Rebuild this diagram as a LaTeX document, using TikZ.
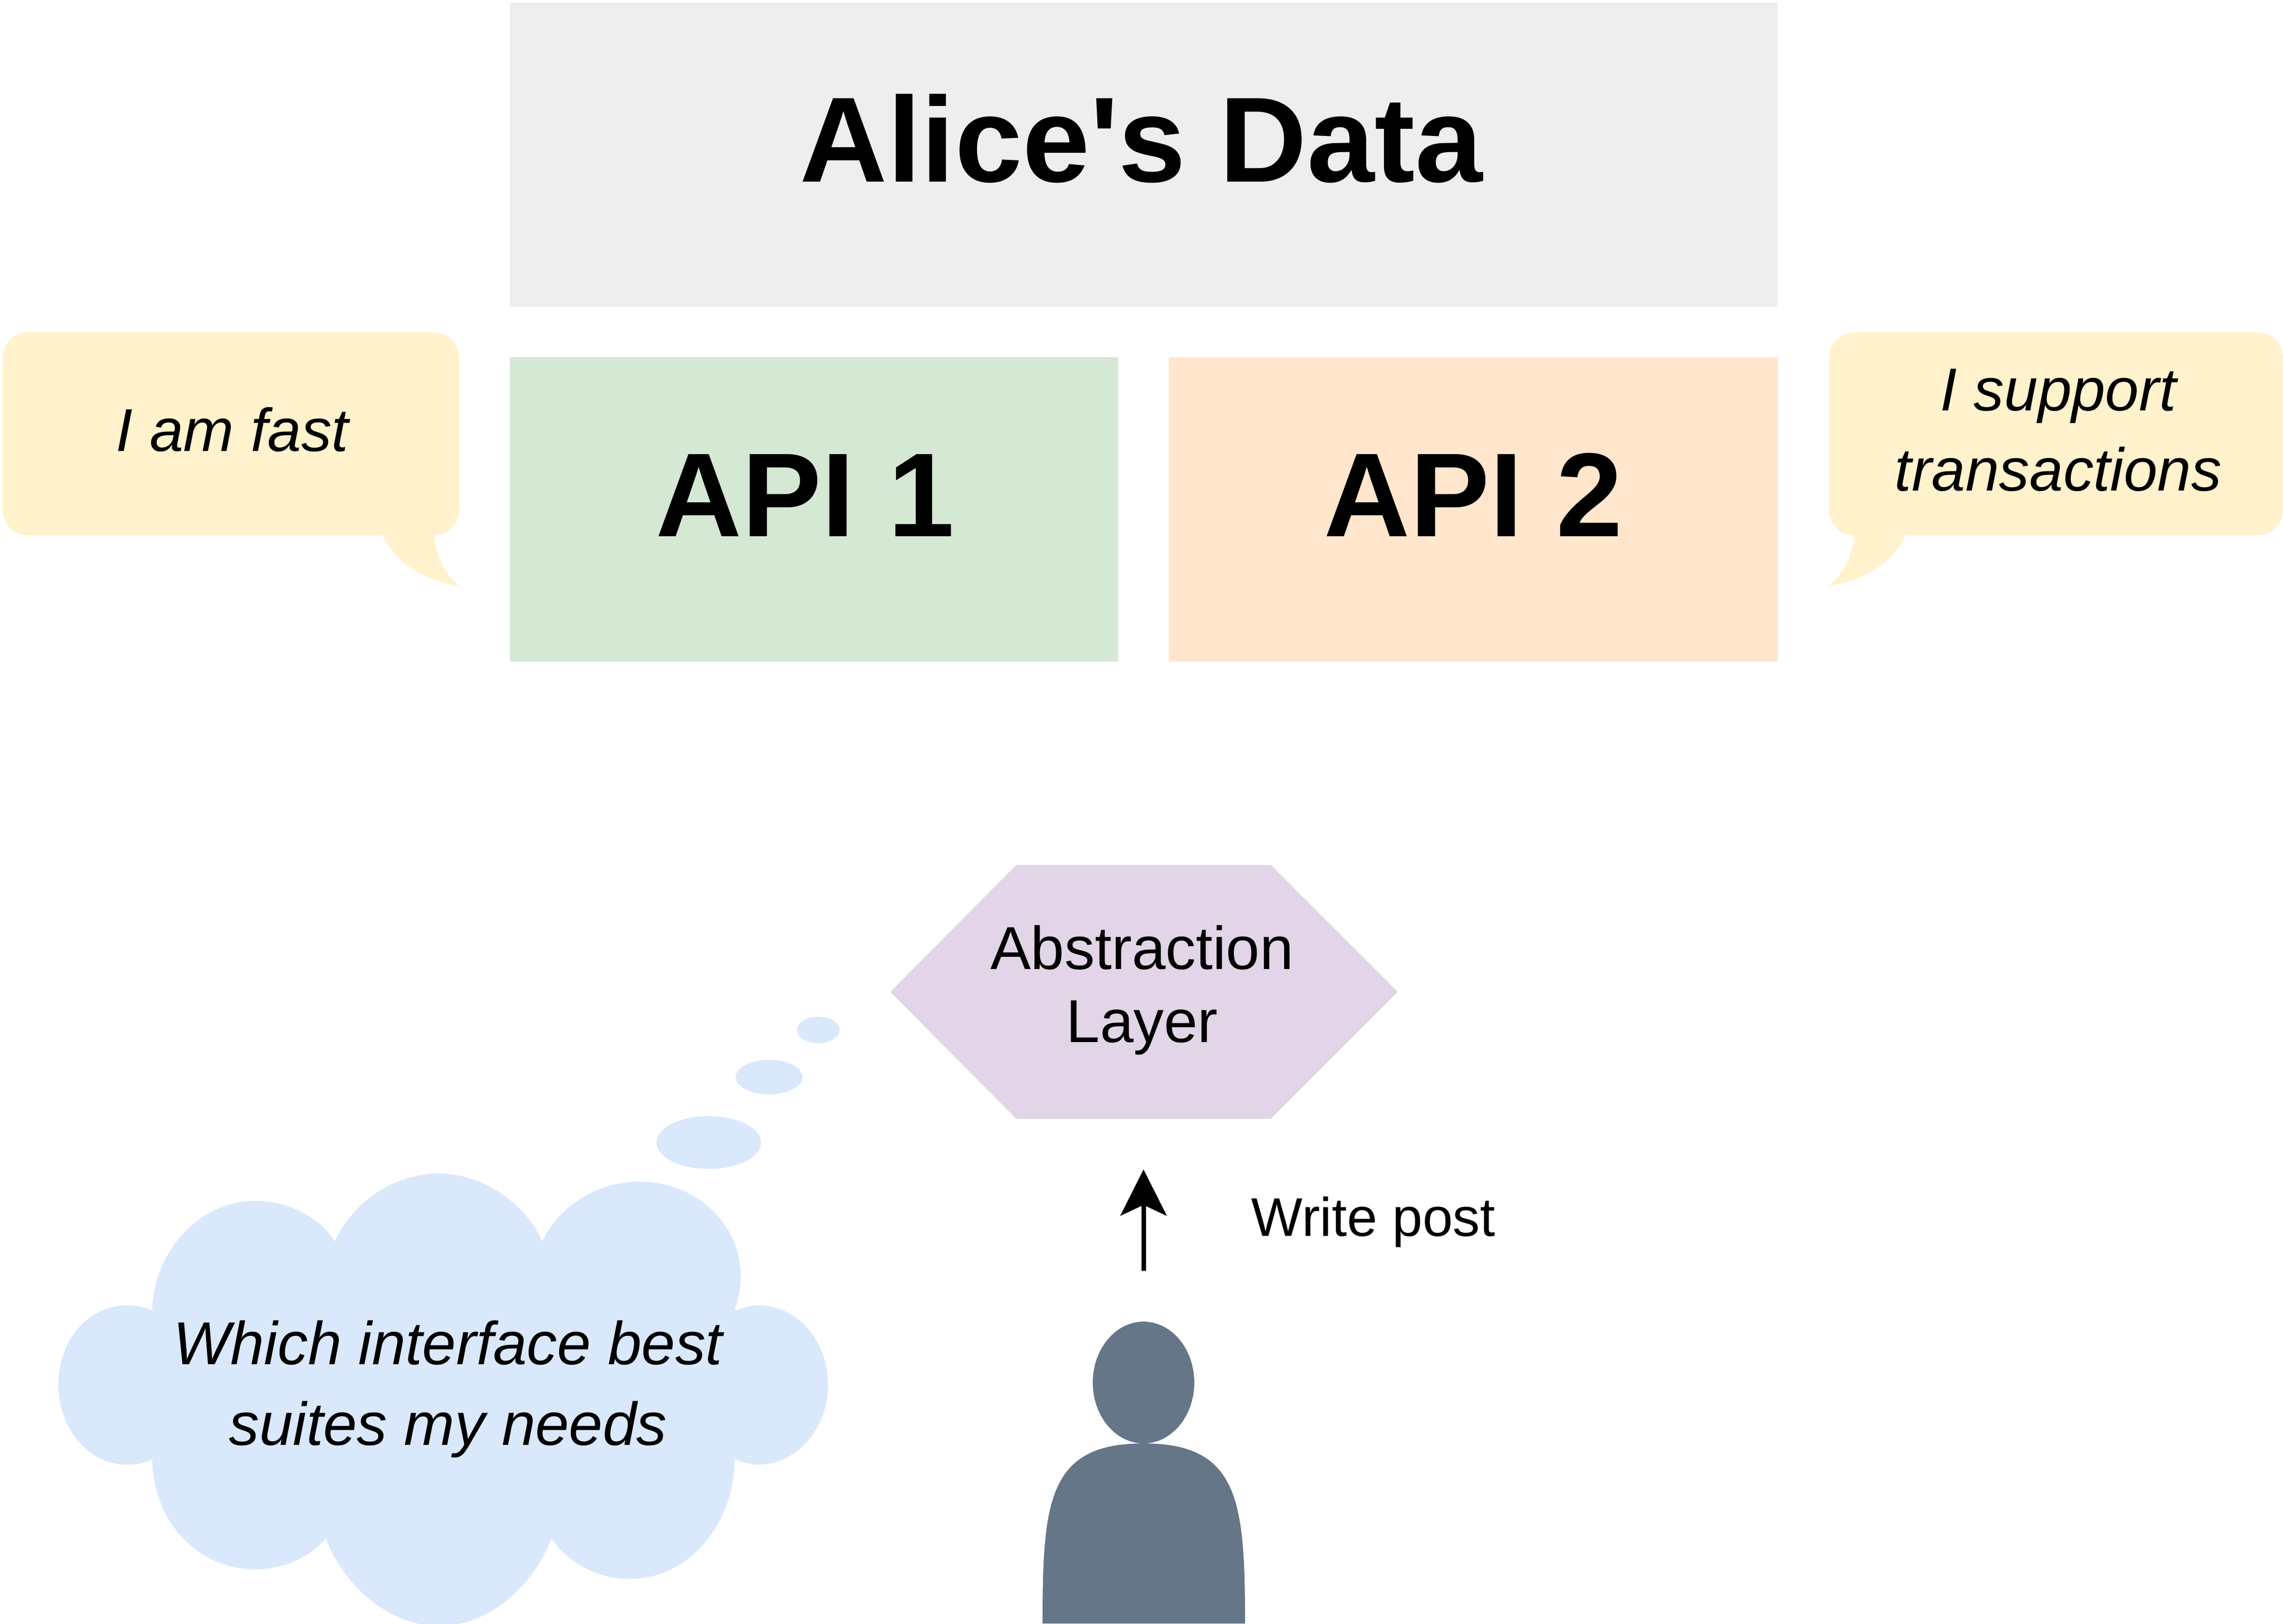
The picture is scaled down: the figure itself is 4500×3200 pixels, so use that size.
\documentclass[tikz,border=0pt]{standalone}
\usepackage{fontspec}
\setmainfont{Liberation Sans}
\usetikzlibrary{arrows.meta,shapes.geometric}
\definecolor{datagrey}{HTML}{EEEEEE}
\definecolor{apigreen}{HTML}{D5E8D4}
\definecolor{apiorange}{HTML}{FFE6CC}
\definecolor{speechyellow}{HTML}{FFF2CC}
\definecolor{layerpurple}{HTML}{E1D5E7}
\definecolor{cloudblue}{HTML}{DAE8FC}
\definecolor{personslate}{HTML}{647687}
\tikzset{
  box/.style={inner sep=0pt,minimum height=60mm,text height=35.3mm,text depth=24.7mm,
    font=\bfseries\fontsize{67pt}{70pt}\selectfont},
  said/.style={inner sep=0pt,align=center,font=\itshape\fontsize{34pt}{45pt}\selectfont},
  bubble/.style={ellipse,fill=cloudblue,inner sep=0pt},
  person/.style={fill=personslate}
}
\begin{document}
\begin{tikzpicture}[x=0.1mm,y=-0.1mm]
   \clip (0,0) rectangle (4500,3200);

   \node[box,fill=datagrey,minimum width=249.9mm,font=\bfseries\fontsize{68pt}{70pt}\selectfont] (data) at (2254.5,305) {Alice\textquotesingle s Data\hspace*{1mm}};
   \node[box,fill=apigreen,minimum width=119.9mm] (api1) at (1604.5,1004) {API 1\hspace*{3.5mm}};
   \node[box,fill=apiorange,minimum width=120mm] (api2) at (2904,1004) {API 2};

   \fill[speechyellow] (55,655) -- (855,655) arc[start angle=-90,end angle=0,radius=50]
      -- (905,1005) arc[start angle=0,end angle=90,radius=50]
      .. controls (860,1100) and (880,1135) .. (905,1155)
      .. controls (835,1145) and (775,1105) .. (755,1055)
      -- (55,1055) arc[start angle=90,end angle=180,radius=50]
      -- (5,705) arc[start angle=180,end angle=270,radius=50] -- cycle;
   \node[said] (fast) at (458,847) {I am fast};

   \fill[speechyellow] (3655,655) -- (4450,655) arc[start angle=-90,end angle=0,radius=50]
      -- (4500,1005) arc[start angle=0,end angle=90,radius=50]
      -- (3755,1055)
      .. controls (3735,1105) and (3675,1145) .. (3605,1155)
      .. controls (3630,1135) and (3650,1100) .. (3655,1055)
      arc[start angle=90,end angle=180,radius=50]
      -- (3605,705) arc[start angle=180,end angle=270,radius=50] -- cycle;
   \node[said] (transactions) at (4057,848) {I support\\transactions};

   \fill[layerpurple] (2003,1705) -- (2505,1705) -- (2755,1955) -- (2505,2205) -- (2003,2205) -- (1755,1955) -- cycle;
   \node[said,font=\fontsize{34pt}{41pt}\selectfont] (layer) at (2251,1952) {Abstraction\\Layer};

   \node[bubble,minimum width=8.4mm,minimum height=5.2mm] (thought1) at (1613,2030) {};
   \node[bubble,minimum width=13.2mm,minimum height=6.8mm] (thought2) at (1516,2123) {};
   \node[bubble,minimum width=20.6mm,minimum height=10.4mm] (thought3) at (1397,2252) {};

   \fill[cloudblue] (300,2583) .. controls (302,2470) and (390,2367) .. (503,2367)
      .. controls (570,2367) and (630,2400) .. (660,2447)
      .. controls (695,2370) and (775,2313) .. (866,2313)
      .. controls (950,2313) and (1035,2370) .. (1069,2447)
      .. controls (1100,2380) and (1175,2329) .. (1260,2329)
      .. controls (1370,2329) and (1460,2410) .. (1460,2516)
      .. controls (1460,2540) and (1455,2560) .. (1448,2583)
      .. controls (1465,2577) and (1480,2573) .. (1495,2573)
      .. controls (1570,2573) and (1632,2640) .. (1632,2730)
      .. controls (1632,2815) and (1570,2887) .. (1495,2887)
      .. controls (1480,2887) and (1465,2882) .. (1448,2876)
      .. controls (1448,3000) and (1360,3112) .. (1242,3112)
      .. controls (1175,3112) and (1120,3080) .. (1087,3032)
      .. controls (1050,3130) and (960,3205) .. (866,3205)
      .. controls (770,3205) and (680,3130) .. (642,3032)
      .. controls (610,3070) and (560,3093) .. (503,3093)
      .. controls (390,3093) and (302,3000) .. (300,2876)
      .. controls (285,2884) and (268,2887) .. (250,2887)
      .. controls (175,2887) and (115,2815) .. (115,2730)
      .. controls (115,2640) and (175,2573) .. (250,2573)
      .. controls (268,2573) and (285,2576) .. (300,2583) -- cycle;
   \node[said] (cloudtext) at (883,2738) {Which interface best\\suites my needs};

   \node[ellipse,person,inner sep=0pt,minimum width=20mm,minimum height=24mm] (head) at (2254,2725) {};
   \fill[person] (2055,3200) .. controls (2055,2960) and (2065,2845) .. (2254,2845)
      .. controls (2443,2845) and (2454,2960) .. (2454,3200) -- cycle;

   \coordinate (arrowtail) at (2254,2505);
   \coordinate (arrowtip) at (2254,2305);
   \draw[line width=0.9mm,-{Stealth[length=9.1mm,width=9.1mm,inset=2.1mm]}] (arrowtail) -- (arrowtip);
   \node[inner sep=0pt,font=\fontsize{30.5pt}{36pt}\selectfont] (write) at (2707,2409) {Write post};
\end{tikzpicture}
\end{document}
